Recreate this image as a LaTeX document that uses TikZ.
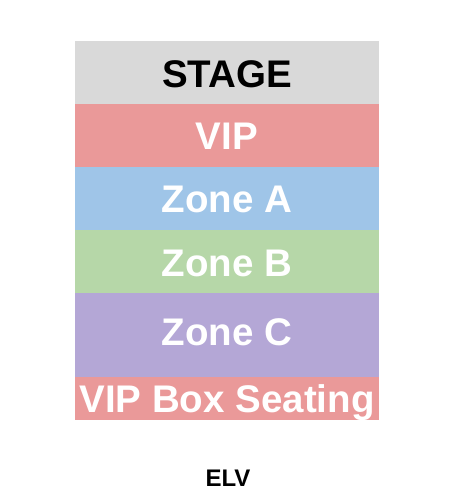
\documentclass[tikz,border=0pt]{standalone}
\usepackage{fontspec}
\setmainfont{Liberation Sans}
\definecolor{stagegray}{HTML}{D9D9D9}
\definecolor{vipred}{HTML}{EA9999}
\definecolor{zoneblue}{HTML}{9FC5E8}
\definecolor{zonegreen}{HTML}{B6D7A8}
\definecolor{zonepurple}{HTML}{B4A7D6}
\tikzset{
  band/.style={draw=none, inner sep=0pt, outer sep=0pt, minimum width=304pt, anchor=north west},
  bandtext/.style={anchor=base, inner sep=0pt, font=\bfseries\fontsize{38.5}{40}\selectfont, text=white},
}
\begin{document}
\begin{tikzpicture}[x=1pt,y=-1pt]
\useasboundingbox[fill=white] (0,0) rectangle (470,503);
\node[band, fill=stagegray, minimum height=63pt] (stage) at (75,41) {};
\node[band, fill=vipred, minimum height=63pt] (vip) at (75,104) {};
\node[band, fill=zoneblue, minimum height=63pt] (za) at (75,167) {};
\node[band, fill=zonegreen, minimum height=63pt] (zb) at (75,230) {};
\node[band, fill=zonepurple, minimum height=84pt] (zc) at (75,293) {};
\node[band, fill=vipred, minimum height=43pt] (vbox) at (75,377) {};
\node[bandtext, text=black] (tstage) at (227,87) {STAGE};
\node[bandtext] (tvip) at (227,149) {VIP};
\node[bandtext] (tza) at (227,212) {Zone A};
\node[bandtext] (tzb) at (227,276) {Zone B};
\node[bandtext] (tzc) at (227,345) {Zone C};
\node[bandtext] (tvbox) at (227,412) {VIP Box Seating};
\node[anchor=base, inner sep=0pt, font=\bfseries\fontsize{24}{26}\selectfont] (elv) at (228,486) {ELV};
\end{tikzpicture}
\end{document}
